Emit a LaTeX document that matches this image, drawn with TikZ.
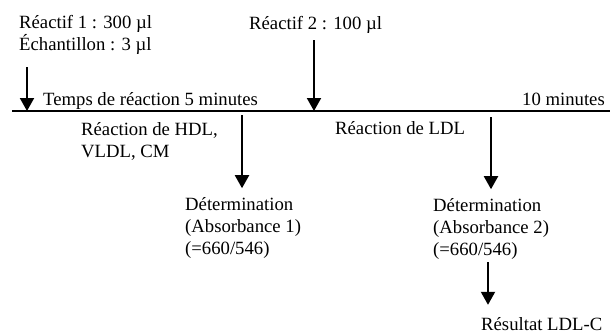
\documentclass[tikz,border=0pt]{standalone}
\usepackage{fontspec}
\setmainfont{Liberation Serif}
\usetikzlibrary{arrows.meta}

\tikzset{
  txt/.style={anchor=base west, inner sep=0pt, align=left},
  axe/.style={line width=2pt},
  fleche/.style={line width=2pt, -{Triangle[width=14pt,length=13pt]}}
}

\begin{document}
\begin{tikzpicture}[x=1pt, y=-1pt, font=\fontsize{18.7}{21.8}\selectfont]
				\useasboundingbox (0,0) rectangle (610,333);

				% Timeline
				\coordinate (tlA) at (12,111);
				\coordinate (tlB) at (610,111);
				\draw[axe] (tlA) -- (tlB);
				\node[txt] (t5) at (43,105) {Temps de réaction 5 minutes};
				\node[txt, anchor=base east] (t10) at (605,105) {10 minutes};

				% Reagents (base = last line)
				\node[txt] (reag1) at (19,50) {Réactif 1 : 300 µl\\Échantillon : 3 µl};
				\node[txt] (reag2) at (249,29) {Réactif 2 : 100 µl};
				\coordinate (s1) at (27,67);
				\coordinate (s2) at (314,40);
				\draw[fleche] (s1) -- (s1 |- tlA);
				\draw[fleche] (s2) -- (s2 |- tlA);

				% Reactions
				\node[txt] (hdl) at (81,157) {Réaction de HDL,\\VLDL, CM};
				\node[txt] (ldl) at (335,134) {Réaction de LDL};

				% Determinations
				\node[txt] (det1) at (185,254) {Détermination\\(Absorbance 1)\\(=660/546)};
				\node[txt] (det2) at (433,255) {Détermination\\(Absorbance 2)\\(=660/546)};
				\coordinate (s3) at (242,115);
				\coordinate (s4) at (491,117);
				\draw[fleche, shorten >=9pt] (s3) -- (s3 |- det1.north);
				\draw[fleche, shorten >=9pt] (s4) -- (s4 |- det2.north);

				% Result
				\node[txt] (res) at (481,330) {Résultat LDL-C};
				\coordinate (s5) at (488,262);
				\draw[fleche, shorten >=12pt] (s5) -- (s5 |- res.north);
\end{tikzpicture}
\end{document}
